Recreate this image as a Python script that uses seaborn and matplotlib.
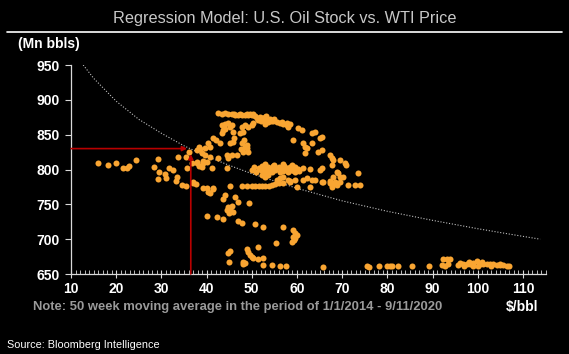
import matplotlib
matplotlib.use("Agg")
import matplotlib.pyplot as plt
from matplotlib.ticker import MultipleLocator
import seaborn as sns
import pandas as pd

# ---------------- data ----------------
title = "Regression Model: U.S. Oil Stock vs. WTI Price"
y_unit = "(Mn bbls)"
x_unit = "$/bbl"
note = "Note: 50 week moving average in the period of 1/1/2014 - 9/11/2020"
source = "Source: Bloomberg Intelligence"

x_ticks = [10, 20, 30, 40, 50, 60, 70, 80, 90, 100, 110]
y_ticks = [650, 700, 750, 800, 850, 900, 950]

# WTI price ($/bbl)
wti = [
    # left low-price group
    16, 18.2, 20, 21.5, 22.4, 22.8, 24.4, 28.3, 29.3, 29.5, 29.3, 30.8, 31, 31.7, 32.6,
    33.5, 33.2, 33.7, 34.5, 35.4, 35.4, 35.7, 36.1, 36.8, 37, 37.6, 38.3, 37.9, 38.3, 38.9, 39.2,
    # top band
    42.5, 44.1, 44.7, 45.6, 46.3, 47, 47.8, 48.5, 49.2, 50, 50.7, 51.2, 51.4, 52.3, 52.9,
    53.4, 53.6, 54, 54.7, 55.6, 56.2, 56.9, 57.8,
    43.4, 46, 47.4, 48.9, 49.6, 50.3, 51.8, 52.6, 53.2, 54.3, 53, 55, 52,
    # upper-left cloud
    43.4, 44.1, 44.7, 45.2, 45.6, 43.6, 45.8, 47.4, 48, 47.8, 48.5, 49.2, 50, 50.3, 43.4,
    41.4, 40.3, 40.8, 39.6, 38.5, 37.9, 43, 45.2, 45.8, 47.8, 48.5, 48.9, 49.2, 48, 46.7,
    45.6, 44.5, 44.7, 42.5, 40.8, 40.1, 39.2, 37.9, 39, 39.6,
    48.2, 49, 47.5, 42, 46, 44,
    # right arc
    56.7, 57.8, 58.5, 58, 60.2, 61.1, 63.3, 64, 65.5, 65, 59.1, 61.3, 61.8, 62.2, 63.3,
    61.8, 64.6, 65.5, 67.3, 67.7, 68, 69.5, 70.6, 70.8, 67.7, 65, 65.5, 62.9, 61.3, 68.8,
    69, 73.5, 68, 69.5, 70.2, 67.3, 68.4, 67.7, 61.3, 62.2, 63.3, 64, 65.8, 71.3, 72.8, 73.9,
    # dense band near 800
    50.5, 51.5, 52.2, 53, 53.6, 54.2, 54.8, 55.4, 56, 56.6, 57.2, 57.8, 58.4, 59, 59.6, 60.2,
    51, 52, 52.8, 53.5, 54.5, 55.2, 56.2, 57, 58, 58.8, 59.5, 60.5,
    53, 55, 57, 59,
    41.2, 44.5, 50,
    # below dense band
    52.3, 52.9, 53.6, 55.6, 56.2, 56.9, 58, 58.5, 59.6, 60, 62.9, 56.9, 58.5,
    # lower band near 777
    45.2, 47.8, 50, 50.8, 51.5, 52.2, 53, 53.8, 54.5, 55.2, 56, 48.9,
    37, 39.2, 41.4, 40.1, 40.3, 40.8, 41.4,
    65.5, 67.3, 67.7, 68.8, 69.5,
    # lower scattered
    44.1, 43.6, 46.3, 47, 49.4, 44.7, 45.2, 45.6, 44.5, 45, 45.8, 40.1, 42.3, 43.6, 47,
    47.8, 50.7, 52.5, 56.9, 55.4, 51.4, 45.2, 44.7, 48.9, 49.2, 49.6, 50, 50.3, 51.4, 52.5,
    48, 48.5, 48, 45, 52.5, 54.5, 56.2, 57.6,
    59.1, 59.6, 59.1, 59.6, 58.9, 60, 59.3,
    # bottom row (high prices)
    65.8, 75.5, 75.9, 78.1, 79.9, 80.5, 81, 82.3, 85.4, 89.2, 92.1, 92.3, 93.2, 93.8, 92.7, 93.4,
    95.7, 96.1, 96.8, 97.5, 98.3, 99, 99.8, 100.5, 101.2, 102, 102.7, 103.4, 104.2, 104.9,
    105.6, 106.4, 107,
    97, 99, 101, 103, 98, 100, 105,
]

# U.S. oil stock (Mn bbls)
stock = [
    809, 806, 810, 802, 802, 805, 813, 803, 815, 796, 786, 793, 788, 802, 800,
    789, 783, 818, 778, 776, 818, 802, 825, 810, 780, 779, 832, 809, 805, 803, 812,
    881, 881, 880, 880, 878, 878, 878, 878, 878, 878, 877, 874, 871, 874, 875,
    871, 868, 872, 870, 868, 867, 865, 864,
    880, 880, 879, 879, 880, 879, 876, 872, 877, 869, 866, 873, 869,
    864, 865, 867, 861, 864, 857, 854, 852, 854, 861, 864, 861, 864, 867, 852,
    845, 838, 832, 831, 829, 828, 838, 838, 839, 838, 832, 831, 825, 825, 821,
    821, 821, 816, 816, 818, 811, 809, 811, 823, 821,
    842, 835, 829, 842, 845, 858,
    868, 867, 865, 861, 859, 857, 852, 854, 847, 845, 842, 838, 832, 831, 838,
    824, 825, 828, 821, 816, 813, 813, 809, 806, 806, 799, 802, 801, 802, 796,
    795, 795, 789, 789, 789, 783, 782, 778, 785, 788, 785, 785, 782, 778, 778, 778,
    804, 802, 805, 801, 804, 800, 805, 802, 804, 801, 805, 802, 804, 800, 803, 801,
    797, 799, 796, 798, 797, 799, 796, 798, 797, 799, 796, 798,
    808, 807, 808, 806,
    802, 802, 799,
    792, 789, 792, 785, 788, 789, 785, 782, 785, 775, 775, 780, 783,
    776, 776, 777, 776, 777, 776, 777, 777, 778, 779, 780, 777,
    782, 773, 773, 773, 768, 766, 772,
    782, 780, 775, 778, 782,
    763, 758, 760, 753, 752, 746, 743, 748, 742, 737, 739, 733, 732, 729, 726,
    723, 722, 717, 717, 694, 689, 683, 680, 686, 682, 677, 674, 673, 671, 673,
    667, 666, 664, 667, 663, 663, 661, 661,
    713, 709, 703, 702, 696, 706, 699,
    660, 661, 660, 661, 661, 661, 661, 661, 661, 661, 663, 672, 672, 672, 661, 664,
    663, 666, 665, 664, 665, 666, 668, 665, 664, 665, 664, 665, 663, 663,
    663, 662, 662,
    661, 662, 667, 662, 667, 662, 665,
]

# regression curve
curve_price = [12.7, 15, 20, 25, 30, 35, 40, 45, 50, 60, 70, 80, 90, 100, 110, 113.8]
curve_stock = [950, 931, 898, 872, 852, 834, 819, 806, 794, 773, 755, 740, 727, 715, 704, 700]

# red arrow guides (current price / implied stock)
arrow_price = 36.5
arrow_stock = 830
arrow_stock_tip = 822
arrow_price_tip = 35.7

# ---------------- plotting ----------------
BG = "black"
sns.set_theme(style="dark", rc={
    "figure.facecolor": BG, "axes.facecolor": BG, "savefig.facecolor": BG,
    "axes.edgecolor": "#d9d9d9", "text.color": "white",
    "xtick.color": "#d9d9d9", "ytick.color": "#d9d9d9",
    "axes.grid": False,
})
plt.rcParams["font.family"] = ["Liberation Sans", "DejaVu Sans"]

fig = plt.figure(figsize=(5.69, 3.54), dpi=100)
ax = fig.add_axes([71 / 569, 1 - 274 / 354, (545.6 - 71) / 569, (274 - 65) / 354])

df = pd.DataFrame({"price": wti, "stock": stock})
curve = pd.DataFrame({"price": curve_price, "stock": curve_stock})

sns.lineplot(data=curve, x="price", y="stock", ax=ax, color="#c0c0c0",
             linewidth=0.8, linestyle=(0, (1, 1.6)), zorder=2)
sns.scatterplot(data=df, x="price", y="stock", ax=ax, color="#F9A532",
                s=19, linewidth=0, zorder=3)

red = "#B80000"
ax.annotate("", xy=(arrow_price_tip, arrow_stock), xytext=(x_ticks[0], arrow_stock),
            arrowprops=dict(arrowstyle="-|>", color=red, lw=1.2,
                            mutation_scale=7, shrinkA=0, shrinkB=0), zorder=4)
ax.annotate("", xy=(arrow_price, arrow_stock_tip), xytext=(arrow_price, y_ticks[0]),
            arrowprops=dict(arrowstyle="-|>", color=red, lw=1.2,
                            mutation_scale=7, shrinkA=0, shrinkB=0), zorder=4)

ax.set_xlim(10, 115)
ax.set_ylim(650, 950)
ax.set_xticks(x_ticks)
ax.set_yticks(y_ticks)
ax.xaxis.set_minor_locator(MultipleLocator(1))
ax.set_xlabel("")
ax.set_ylabel("")
for s in ["top", "right"]:
    ax.spines[s].set_visible(False)
for s in ["left", "bottom"]:
    ax.spines[s].set_color("#d9d9d9")
    ax.spines[s].set_linewidth(0.9)

ax.tick_params(axis="x", which="major", direction="inout", length=6, width=0.8,
               labelsize=10, pad=3, bottom=True)
ax.tick_params(axis="x", which="minor", direction="in", length=3, width=0.6, bottom=True)
ax.tick_params(axis="y", which="major", direction="out", length=4, width=0.8,
               labelsize=10, pad=4, left=True)
for lab in ax.get_xticklabels() + ax.get_yticklabels():
    lab.set_fontweight("bold")
    lab.set_color("white")

fig.text(0.5, 1 - 18 / 354, title, ha="center", va="center", fontsize=11.7, color="#c8c8c8")
fig.add_artist(plt.Line2D([7 / 569, 562 / 569], [1 - 32 / 354, 1 - 32 / 354],
                          color="white", lw=1.2))
fig.text(18 / 569, 1 - 44 / 354, y_unit, ha="left", va="center", fontsize=10,
         fontweight="bold", color="white")
fig.text(33 / 569, 1 - 307 / 354, note, ha="left", va="center", fontsize=9.4,
         fontweight="bold", color="#9a9a9a")
fig.text(538 / 569, 1 - 307 / 354, x_unit, ha="right", va="center", fontsize=10,
         fontweight="bold", color="white")
fig.text(7 / 569, 1 - 345 / 354, source, ha="left", va="center", fontsize=7.8,
         color="white")

fig.savefig("out.png", dpi=100, facecolor=BG)
